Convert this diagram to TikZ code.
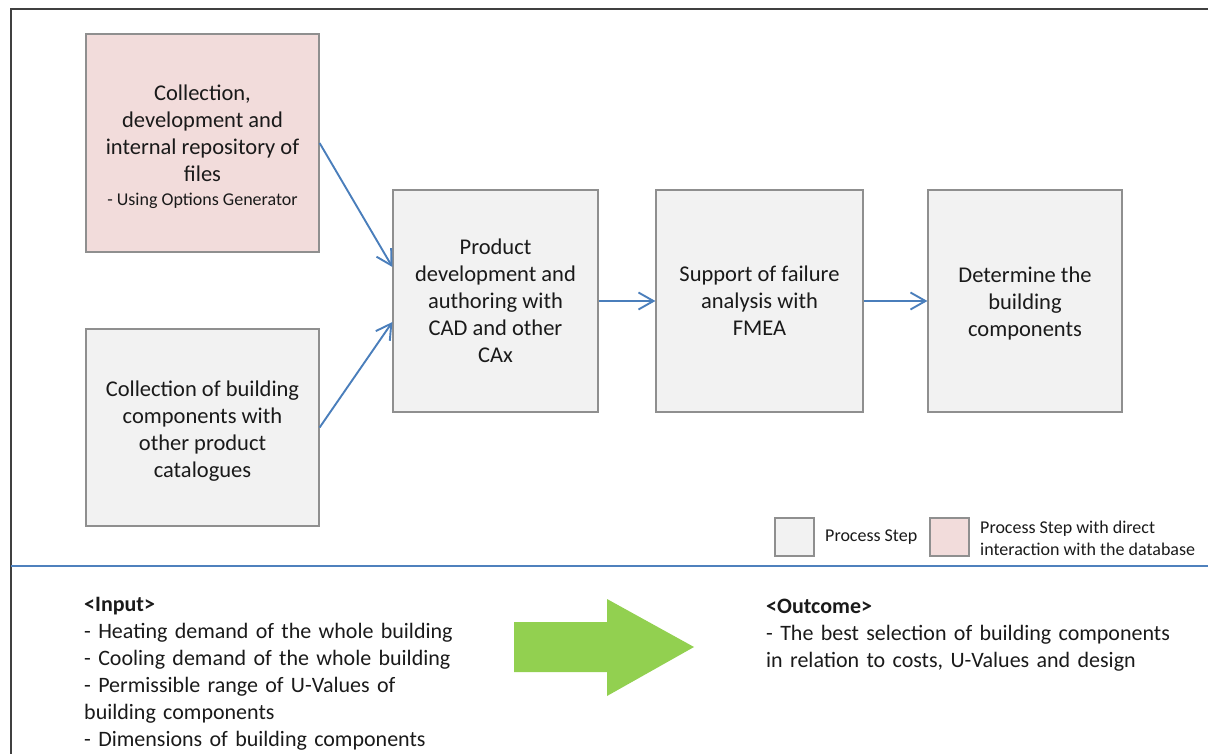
\documentclass[tikz,border=0pt]{standalone}
\usepackage{fontspec}
\setmainfont{Carlito}
\usetikzlibrary{arrows.meta}

\definecolor{boxgray}{HTML}{F2F2F2}
\definecolor{boxpink}{HTML}{F2DCDB}
\definecolor{boxline}{HTML}{8F8F8F}
\definecolor{flowblue}{HTML}{4A7EBB}
\definecolor{rulblue}{HTML}{4F81BD}
\definecolor{frameline}{HTML}{404040}
\definecolor{bigarrow}{HTML}{92D050}
\definecolor{ink}{HTML}{1A1A1A}

\tikzset{
  stepbox/.style={draw=boxline, line width=1.2pt, fill=boxgray, inner sep=0pt,
    align=center, text=ink, font=\fontsize{22.5}{27}\selectfont},
  dbbox/.style={stepbox, fill=boxpink},
  flow/.style={draw=flowblue, line width=1.9pt,
    -{Straight Barb[length=15pt,width=17pt]}},
  keybox/.style={draw=boxline, line width=1.2pt, minimum width=39pt,
    minimum height=38pt, inner sep=0pt},
  keytext/.style={inner sep=0pt, text=ink, align=left,
    font=\fontsize{18}{22}\selectfont},
  infotext/.style={inner sep=0pt, text=ink, align=left, text width=430pt,
    font=\fontsize{22}{27}\selectfont},
}

\begin{document}
\begin{tikzpicture}[x=1pt, y=-1pt]
  \useasboundingbox (0,0) rectangle (1208,754);

  % outer frame (top and left edges) and separator rule
  \draw[frameline, line width=1.5pt] (11,754) -- (11,9) -- (1208,9);
  \draw[rulblue, line width=2pt] (11,565.5) -- (1208,565.5);

  % process steps
  \node[dbbox, minimum width=233pt, minimum height=218pt] (A) at (202.5,143)
    {\rule{0pt}{23pt}Collection,\\development and\\internal repository of\\files\\[-3pt]
     {\fontsize{18}{22}\selectfont - Using Options Generator}};
  \node[stepbox, minimum width=233pt, minimum height=197pt] (B) at (202.5,427.5)
    {\rule{0pt}{23pt}Collection of building\\components with\\other product\\catalogues};
  \node[stepbox, minimum width=205pt, minimum height=222pt] (C) at (495.5,301)
    {Product\\development and\\authoring with\\CAD and other\\CAx};
  \node[stepbox, minimum width=207pt, minimum height=222pt] (D) at (759.5,301)
    {Support of failure\\analysis with\\FMEA};
  \node[stepbox, minimum width=194pt, minimum height=222pt] (E) at (1025,301)
    {\rule{0pt}{21pt}Determine the\\building\\components};

  % flow connectors
  \draw[flow] (A.east) -- ([yshift=34pt]C.west);
  \draw[flow] (B.east) -- ([yshift=-21pt]C.west);
  \draw[flow] (C.east) -- (D.west);
  \draw[flow] (D.east) -- (E.west);

  % legend
  \node[keybox, fill=boxgray] (k1) at (794.5,537) {};
  \node[keytext, anchor=west] (k1t) at (825,537) {Process Step};
  \node[keybox, fill=boxpink] (k2) at (949.5,537) {};
  \node[keytext, anchor=west] (k2t) at (980,538)
    {Process Step with direct\\interaction with the database};

  % input / outcome
  \node[infotext, anchor=base west] (inp) at (84,611)
    {\textbf{<Input>}\\
     - Heating demand of the whole building\\
     - Cooling demand of the whole building\\
     - Permissible range of U-Values of\\
     building components\\
     - Dimensions of building components};
  \node[infotext, anchor=base west] (out) at (766,613)
    {\textbf{<Outcome>}\\
     - The best selection of building components\\
     in relation to costs, U-Values and design};

  % large green arrow between input and outcome
  \fill[bigarrow] (514,622) -- (607,622) -- (607,599) -- (694,647)
    -- (607,696) -- (607,672) -- (514,672) -- cycle;
\end{tikzpicture}
\end{document}
